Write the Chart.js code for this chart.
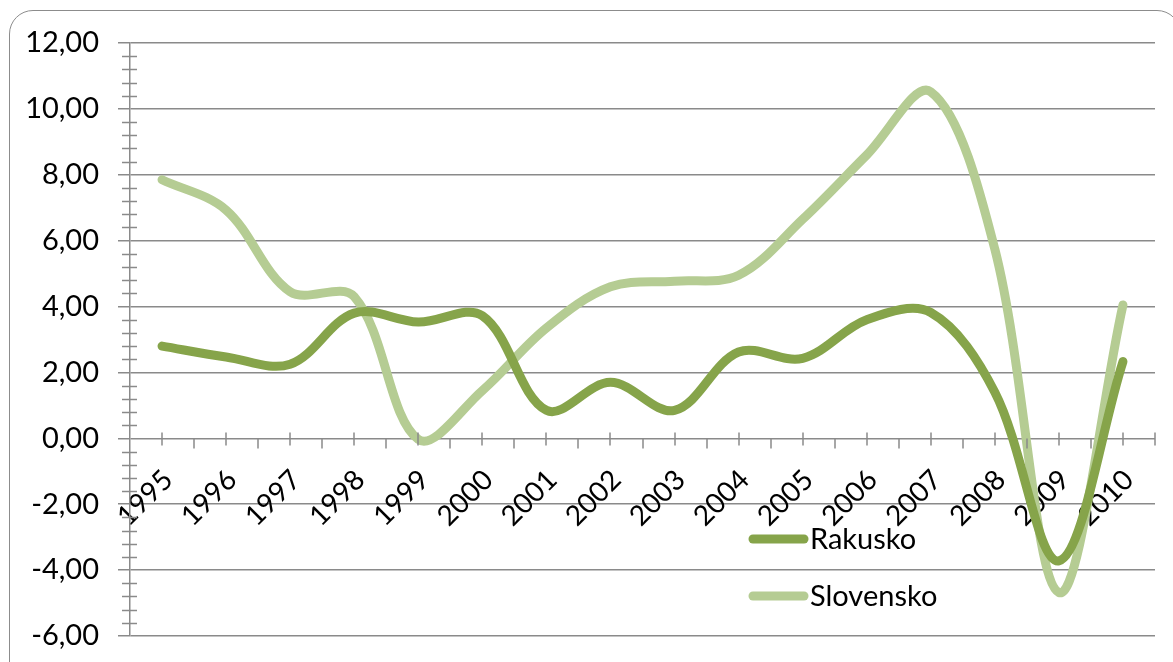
<!DOCTYPE html>
<html>
<head>
<meta charset="utf-8">
<script src="https://cdn.jsdelivr.net/npm/chart.js@4/dist/chart.umd.min.js"></script>
<style>
  html, body { margin: 0; padding: 0; background: #fff; }
  #wrap { position: relative; width: 1173px; height: 662px; overflow: hidden; background: #fff; }
  #frame { position: absolute; left: 9px; top: 10px; width: 1172px; height: 720px;
           border: 1.5px solid #8c8c8c; border-radius: 24px; box-sizing: border-box; pointer-events: none; }
  canvas { position: absolute; left: 0; top: 0; }
</style>
</head>
<body>
<div id="wrap">
  <canvas id="c" width="1173" height="662"></canvas>
  <div id="frame"></div>
</div>
<script>
const years = ['1995','1996','1997','1998','1999','2000','2001','2002','2003','2004','2005','2006','2007','2008','2009','2010'];
const rakusko = [2.8, 2.47, 2.25, 3.8, 3.53, 3.72, 0.85, 1.7, 0.85, 2.62, 2.43, 3.6, 3.82, 1.4, -3.72, 2.33];
const slovensko = [7.85, 6.93, 4.45, 4.3, -0.03, 1.45, 3.35, 4.6, 4.77, 4.95, 6.65, 8.6, 10.52, 5.74, -4.68, 4.05];
const seriesNames = ['Rakusko', 'Slovensko'];
const yMin = -6, yMax = 12, yStep = 2, yMinorStep = 0.4;

const DARK = '#86a44a';
const LIGHT = '#b5cc93';
const GRID = '#8a8a8a';
const FONT = 'Lato, "Open Sans", sans-serif';

const decorPlugin = {
  id: 'decor',
  afterDraw(chart) {
    const ctx = chart.ctx;
    const x = chart.scales.x, y = chart.scales.y;
    const axX = chart.chartArea.left;
    ctx.save();
    ctx.strokeStyle = GRID;
    ctx.lineWidth = 1.5;
    for (let v = yMin; v <= yMax + 1e-9; v += yMinorStep) {
      const r = Math.round(v * 100) / 100;
      if (Math.abs(r / yStep - Math.round(r / yStep)) < 1e-6) continue;
      const py = Math.round(y.getPixelForValue(r)) + 0.5;
      ctx.beginPath(); ctx.moveTo(axX - 8, py); ctx.lineTo(axX + 7, py); ctx.stroke();
    }
    const y0 = Math.round(y.getPixelForValue(0)) + 0.5;
    const n = years.length;
    for (let i = 0; i < n; i++) {
      const cx = Math.round(x.getPixelForValue(i));
      ctx.beginPath(); ctx.moveTo(cx, y0 - 6); ctx.lineTo(cx, y0 + 7); ctx.stroke();
      if (i < n - 1) {
        const bx = Math.round((x.getPixelForValue(i) + x.getPixelForValue(i + 1)) / 2);
        ctx.beginPath(); ctx.moveTo(bx, y0); ctx.lineTo(bx, y0 + 10); ctx.stroke();
      }
    }
    const rx = Math.round(chart.chartArea.right);
    ctx.beginPath(); ctx.moveTo(rx, y0 - 6); ctx.lineTo(rx, y0 + 7); ctx.stroke();
    const items = [{ y: 539 }, { y: 596 }];
    chart.data.datasets.forEach((ds, i) => {
      const ly = items[i].y;
      ctx.strokeStyle = ds.borderColor;
      ctx.lineWidth = 9;
      ctx.lineCap = 'round';
      ctx.beginPath(); ctx.moveTo(753, ly); ctx.lineTo(804, ly); ctx.stroke();
      ctx.fillStyle = '#000';
      ctx.font = '29px ' + FONT;
      ctx.textBaseline = 'alphabetic';
      ctx.textAlign = 'left';
      ctx.fillText(ds.label, 810, ly + 10);
    });
    ctx.restore();
  }
};

new Chart(document.getElementById('c'), {
  type: 'line',
  data: {
    labels: years,
    datasets: [
      { label: seriesNames[0], data: rakusko, borderColor: DARK, backgroundColor: DARK },
      { label: seriesNames[1], data: slovensko, borderColor: LIGHT, backgroundColor: LIGHT }
    ]
  },
  options: {
    responsive: false,
    animation: false,
    devicePixelRatio: 1,
    layout: { padding: { left: 0, top: 43, right: 18, bottom: 26 } },
    elements: {
      line: { borderWidth: 9, tension: 0.35, borderCapStyle: 'round', borderJoinStyle: 'round', fill: false },
      point: { radius: 0, hoverRadius: 0 }
    },
    plugins: { legend: { display: false }, tooltip: { enabled: false } },
    scales: {
      x: {
        type: 'category',
        position: { y: 0 },
        offset: true,
        grid: { display: false, drawTicks: false },
        border: { display: false },
        ticks: {
          color: '#000',
          font: { family: FONT, size: 28 },
          minRotation: 45, maxRotation: 45,
          padding: 25,
          labelOffset: 6,
          autoSkip: false
        },
        afterFit(s) { s.height = 0; s.paddingLeft = 0; s.paddingRight = 0; }
      },
      y: {
        min: yMin, max: yMax,
        grid: { color: GRID, lineWidth: 1.5, tickLength: 12, drawTicks: true },
        border: { display: true, color: GRID, width: 1.5 },
        ticks: {
          stepSize: yStep,
          color: '#000',
          font: { family: FONT, size: 29 },
          padding: 19,
          callback: v => v.toFixed(2).replace('.', ',')
        },
        afterFit(s) { s.width = 130; s.paddingTop = 0; s.paddingBottom = 0; }
      }
    }
  },
  plugins: [decorPlugin]
});
</script>
</body>
</html>
